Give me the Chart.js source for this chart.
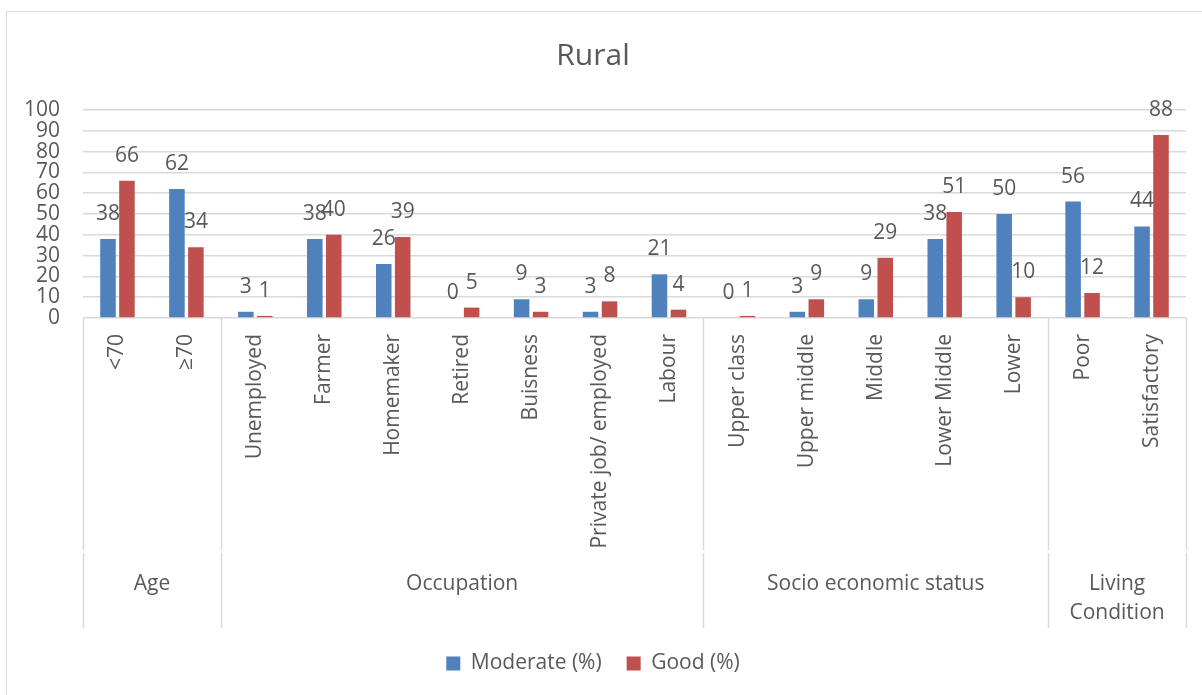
<!DOCTYPE html>
<html>
<head>
<meta charset="utf-8">
<script src="https://cdn.jsdelivr.net/npm/chart.js@4.4.0/dist/chart.umd.min.js"></script>
<style>
  body { margin: 0; background: #fff; overflow: hidden; }
  .frame { position: absolute; left: 6px; top: 11px; width: 1300px; height: 800px; border: 1.5px solid #d9d9d9; }
  .wrap { position: absolute; left: 0; top: 0; width: 1202px; height: 695px; }
</style>
</head>
<body>
<div class="frame"></div>
<div class="wrap"><canvas id="rural"></canvas></div>
<script>
const categories = ['<70', '≥70', 'Unemployed', 'Farmer', 'Homemaker', 'Retired', 'Buisness',
  'Private job/ employed', 'Labour', 'Upper class', 'Upper middle', 'Middle', 'Lower Middle', 'Lower',
  'Poor', 'Satisfactory']
const moderate = [38, 62, 3, 38, 26, 0, 9, 3, 21, 0, 3, 9, 38, 50, 56, 44]
const good = [66, 34, 1, 40, 39, 5, 3, 8, 4, 1, 9, 29, 51, 10, 12, 88]
// group name (lines) and how many categories it spans
const groupNames = [['Age'], ['Occupation'], ['Socio economic status'], ['Living', 'Condition']]
const groupSizes = [2, 7, 5, 2]
const yTicks = [0, 10, 20, 30, 40, 50, 60, 70, 80, 90, 100]

const textColor = '#595959'
const lineColor = '#d9d9d9'
const fontFamily = "'Open Sans', sans-serif"
const fontSize = 21

// value labels above each bar
const barLabels = {
  id: 'barLabels',
  afterDatasetsDraw(chart) {
    const ctx = chart.ctx
    ctx.save()
    ctx.font = `${fontSize}px ${fontFamily}`
    ctx.fillStyle = textColor
    ctx.textAlign = 'center'
    ctx.textBaseline = 'middle'
    chart.data.datasets.forEach((ds, i) => {
      chart.getDatasetMeta(i).data.forEach((bar, j) => {
        ctx.fillText(ds.data[j], bar.x, bar.y - 25)
      })
    })
    ctx.restore()
  }
}

// group separators and group names under the rotated labels
const groupAxis = {
  id: 'groupAxis',
  afterDraw(chart) {
    const x = chart.scales.x
    const ctx = chart.ctx
    const step = x.width / categories.length
    const top = x.top
    const bottom = x.bottom
    ctx.save()
    ctx.strokeStyle = lineColor
    ctx.lineWidth = 1.5
    let idx = 0
    const edges = [0]
    groupSizes.forEach(n => { idx += n; edges.push(idx) })
    edges.forEach(e => {
      const px = Math.round(x.left + e * step) + 0.5
      ctx.beginPath()
      ctx.moveTo(px, top)
      ctx.lineTo(px, top + 232)
      ctx.moveTo(px, top + 235)
      ctx.lineTo(px, bottom)
      ctx.stroke()
    })
    ctx.font = `${fontSize}px ${fontFamily}`
    ctx.fillStyle = textColor
    ctx.textAlign = 'center'
    ctx.textBaseline = 'middle'
    groupNames.forEach((lines, g) => {
      const cx = x.left + (edges[g] + edges[g + 1]) / 2 * step
      lines.forEach((t, k) => {
        ctx.fillText(t, cx, top + 266 + k * 29)
      })
    })
    ctx.restore()
  }
}

new Chart(document.getElementById('rural'), {
  type: 'bar',
  data: {
    labels: categories,
    datasets: [
      { label: 'Moderate (%)', data: moderate, backgroundColor: '#4F81BD' },
      { label: 'Good (%)', data: good, backgroundColor: '#C0504D' }
    ]
  },
  options: {
    responsive: true,
    maintainAspectRatio: false,
    animation: false,
    categoryPercentage: 0.55,
    barPercentage: 0.82,
    layout: { padding: { left: 0, right: 16, top: 0, bottom: 11 } },
    scales: {
      x: {
        grid: { display: false },
        border: { display: false },
        ticks: {
          autoSkip: false,
          minRotation: 90,
          maxRotation: 90,
          padding: 8,
          color: textColor,
          font: { family: fontFamily, size: fontSize }
        },
        afterFit: (scale) => { scale.height = 310 }
      },
      y: {
        min: 0,
        max: 100,
        afterBuildTicks: (scale) => { scale.ticks = yTicks.map(v => ({ value: v })) },
        grid: { color: lineColor, lineWidth: 1.5, drawTicks: false },
        border: { display: false },
        ticks: {
          autoSkip: false,
          padding: 23,
          color: textColor,
          font: { family: fontFamily, size: fontSize }
        },
        afterFit: (scale) => { scale.width = 83 }
      }
    },
    plugins: {
      title: {
        display: true,
        text: 'Rural',
        color: textColor,
        font: { family: fontFamily, size: 30, weight: 'normal' },
        padding: { top: 38, bottom: 36 }
      },
      legend: {
        position: 'bottom',
        labels: {
          boxWidth: 14,
          boxHeight: 14,
          padding: 25,
          color: textColor,
          font: { family: fontFamily, size: fontSize }
        }
      },
      tooltip: { enabled: false }
    }
  },
  plugins: [barLabels, groupAxis]
})
</script>
</body>
</html>
